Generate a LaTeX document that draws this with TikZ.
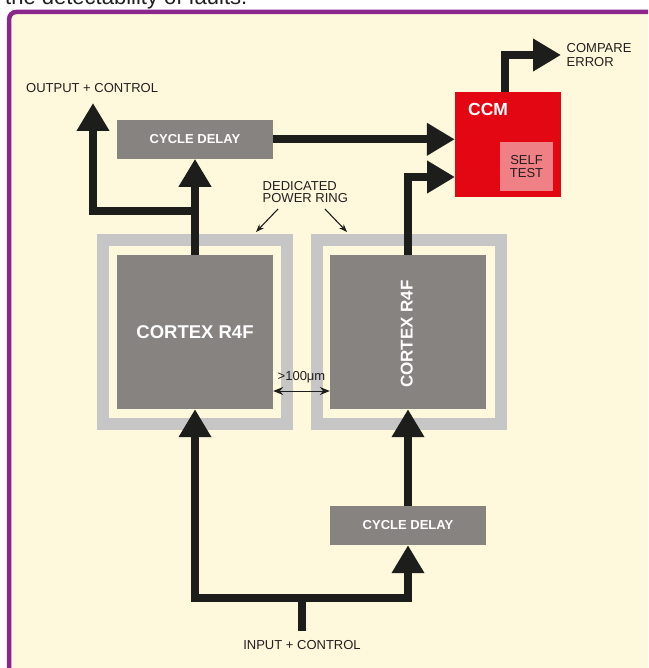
\documentclass[tikz,border=0pt]{standalone}
\usepackage{fontspec}
\setmainfont{Liberation Sans}
\usetikzlibrary{arrows.meta}
\definecolor{cream}{HTML}{FEF9DC}
\definecolor{framepurple}{HTML}{8B278C}
\definecolor{boxgray}{HTML}{878381}
\definecolor{ringgray}{HTML}{C6C6C6}
\definecolor{ccmred}{HTML}{E30613}
\definecolor{selfpink}{HTML}{EF8186}
\definecolor{linedark}{HTML}{1D1D1B}
\definecolor{textdark}{HTML}{231F20}
\tikzset{
  block/.style={fill=boxgray, inner sep=0pt, text=white, font=\bfseries\fontsize{13}{15}\selectfont},
  ringbox/.style={draw=ringgray, line width=12pt, inner sep=0pt, minimum width=184pt, minimum height=184pt},
  flow/.style={line width=8pt, draw=linedark, line join=miter, -{Triangle[length=28pt,width=31pt]}},
  bigtip/.tip={Triangle[length=28pt,width=31pt]},
  thinarrow/.style={line width=1.1pt, draw=linedark, -{Stealth[length=8pt,width=6pt]}},
  dimarrow/.style={line width=1pt, draw=linedark, {Stealth[length=10pt,width=8pt]}-{Stealth[length=10pt,width=8pt]}},
  lbl/.style={inner sep=0pt, text=textdark, font=\fontsize{13}{14}\selectfont},
}
\begin{document}
\begin{tikzpicture}[x=1pt,y=-1pt]
\useasboundingbox (0,0) rectangle (648,668);
\clip (0,0) rectangle (648,668);
\fill[white] (0,0) rectangle (648,668);
\node[anchor=base west, inner sep=0pt, text=textdark, font=\fontsize{22}{24}\selectfont] (caption) at (5,4.5) {the detectability of faults.};
\draw[framepurple, line width=4.5pt, fill=cream, rounded corners=7pt] (9.2,12) rectangle (720,720);

% power rings
\node[ringbox] (ring1) at (195,332) {};
\node[ringbox] (ring2) at (408.5,332) {};

% blocks
\node[block, minimum width=156pt, minimum height=154pt, font=\bfseries\fontsize{18.5}{20}\selectfont] (cpu1) at (195,332) {CORTEX R4F};
\node[block, minimum width=156pt, minimum height=154pt] (cpu2) at (408,332) {};
\node[rotate=90, inner sep=0pt, text=white, font=\bfseries\fontsize{17}{19}\selectfont] (cpu2lbl) at (406.7,334) {CORTEX R4F};
\node[block, minimum width=156pt, minimum height=38.7pt] (cd1) at (195,139.3) {CYCLE DELAY};
\node[block, minimum width=156pt, minimum height=39pt] (cd2) at (408,525.5) {CYCLE DELAY};

% CCM
\node[fill=ccmred, minimum width=106pt, minimum height=105pt, inner sep=0pt] (ccm) at (508,144.5) {};
\node[anchor=north west, inner sep=0pt, text=white, font=\bfseries\fontsize{17.5}{19}\selectfont] (ccmlbl) at (468,103.3) {CCM};
\node[fill=selfpink, minimum width=53pt, minimum height=48.7pt, inner sep=0pt, align=center, text=textdark, font=\fontsize{13}{13}\selectfont] (self) at (526.5,166.3) {SELF\\TEST};

% labels
\node[lbl, anchor=north west] (outlbl) at (26,83) {OUTPUT + CONTROL};
\node[lbl, anchor=north] (inlbl) at (302,640) {INPUT + CONTROL};
\node[lbl, anchor=north west, align=left, font=\fontsize{13}{14.3}\selectfont] (errlbl) at (566.5,43) {COMPARE\\ERROR};
\node[lbl, anchor=north west, align=left, font=\fontsize{13}{12}\selectfont] (ringlbl) at (262.5,181.7) {DEDICATED\\POWER RING};

% coordinates
\coordinate (ccmin2) at (455,177);
\coordinate (errtip) at (561,55);
\coordinate (outtip) at (93,103);
\coordinate (split1) at (195,211);
\coordinate (jL) at (195,597.5);
\coordinate (jR) at (408,597.5);
\coordinate (injoin) at (301.5,597.5);
\coordinate (inend) at (301.5,631);
\coordinate (dimy) at (0,391);
\coordinate (d1s) at (278,209);
\coordinate (d1e) at (256,232);
\coordinate (d2s) at (325,209);
\coordinate (d2e) at (347,232);

% connectors
\draw[flow] (cd1.east) -- (cd1.east -| ccm.west);
\draw[flow] (cpu2.north) |- (ccmin2);
\draw[flow] ([xshift=-3.5pt]ccm.north) |- (errtip);
\draw[flow] (cpu1.north) -- (cd1.south);
\draw[flow] (split1) -| (outtip);
\draw[flow] (cd2.north) -- (cpu2.south);
\draw[flow, bigtip-bigtip] (cpu1.south) -- (jL) -- (jR) -- (cd2.south);
\draw[flow, -] (inend) -- (injoin);

\draw[thinarrow] (d1s) -- (d1e);
\draw[thinarrow] (d2s) -- (d2e);
\draw[dimarrow] (cpu1.east |- dimy) -- (cpu2.west |- dimy);
\node[lbl, anchor=base] (dimlbl) at (301.5,380) {>100μm};
\end{tikzpicture}
\end{document}
